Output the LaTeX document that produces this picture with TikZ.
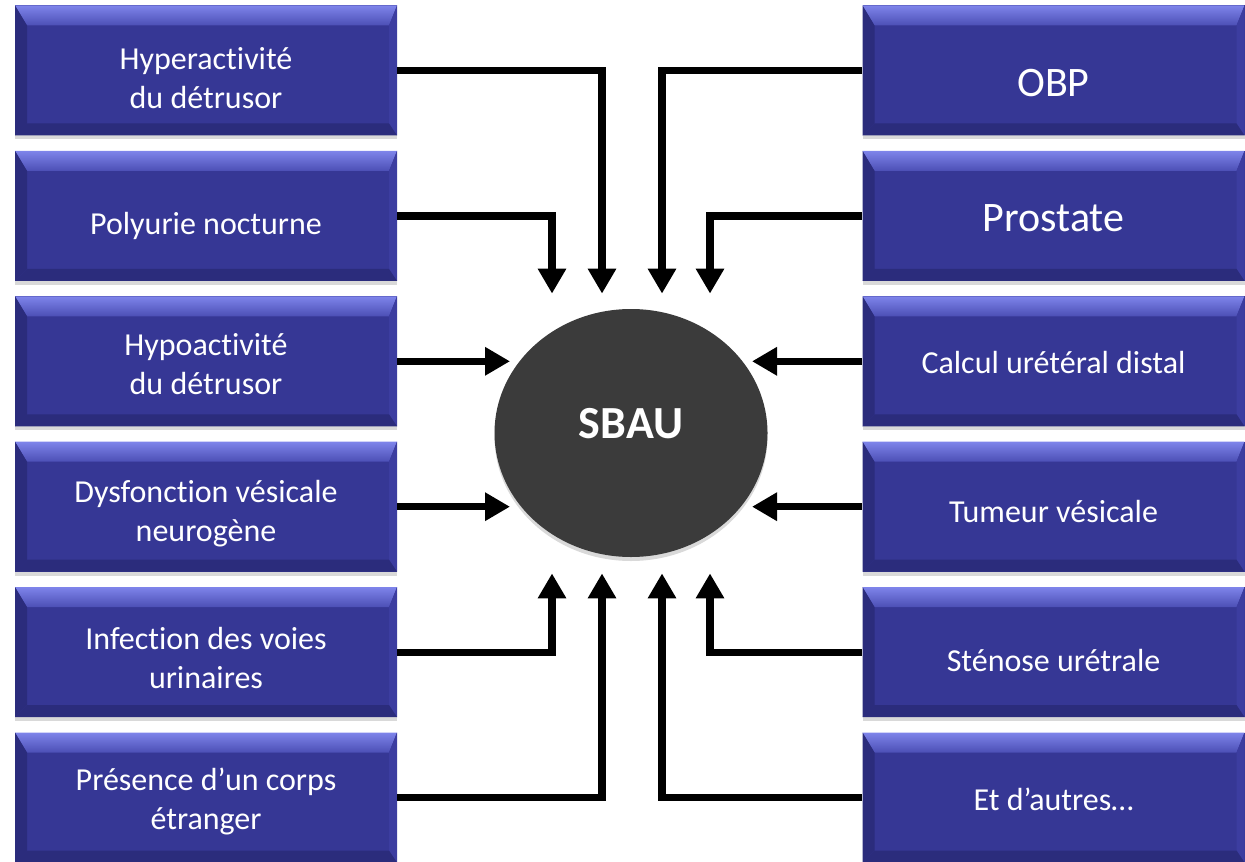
\documentclass[tikz,border=0pt]{standalone}
\usepackage{fontspec}
\setmainfont[Ligatures=NoCommon]{Carlito}
\usetikzlibrary{positioning, calc, arrows.meta, shapes.geometric, shadows}
\definecolor{boxface}{HTML}{363795}
\definecolor{bevellight}{HTML}{7E84EA}
\definecolor{bevelmid}{HTML}{4C4FB5}
\definecolor{beveldark}{HTML}{2B2C7C}
\definecolor{bevelside}{HTML}{3C3DA0}
\definecolor{corefill}{HTML}{3B3B3B}

\begin{document}
\begin{tikzpicture}[
    >={Triangle[width=13.5pt, length=12.5pt]},
    font=\fontsize{16}{19.5}\selectfont,
    node distance=7.3pt,
    cause/.style={
        rectangle,
        minimum width=191pt,
        minimum height=65pt,
        inner sep=0pt,
        align=center,
        fill=boxface,
        text=white,
        execute at begin node={\rule{0pt}{#1}},
        drop shadow={shadow xshift=0pt, shadow yshift=-2pt, opacity=0.3},
        path picture={
            \path (path picture bounding box.north west) coordinate (bNW)
                  (path picture bounding box.north east) coordinate (bNE)
                  (path picture bounding box.south west) coordinate (bSW)
                  (path picture bounding box.south east) coordinate (bSE);
            \shade[top color=bevellight, bottom color=bevelmid]
                (bNW) -- (bNE) -- ($(bNE)+(-4pt,-10pt)$) -- ($(bNW)+(6pt,-10pt)$) -- cycle;
            \fill[beveldark]
                (bNW) -- ($(bNW)+(6pt,-10pt)$) -- ($(bSW)+(6pt,6pt)$) -- (bSW) -- cycle;
            \fill[bevelside]
                (bNE) -- ($(bNE)+(-4pt,-10pt)$) -- ($(bSE)+(-4pt,6pt)$) -- (bSE) -- cycle;
            \fill[beveldark]
                (bSW) -- ($(bSW)+(6pt,6pt)$) -- ($(bSE)+(-4pt,6pt)$) -- (bSE) -- cycle;
        }
    },
    cause/.default=12pt,
    bigcause/.style={cause=#1, font=\fontsize{21}{25}\selectfont},
    bigcause/.default=15pt,
    core/.style={
        ellipse,
        minimum width=136.5pt,
        minimum height=124pt,
        inner sep=0pt,
        fill=corefill,
        text=white,
        font=\fontsize{23}{27}\selectfont\bfseries,
        execute at begin node={\rule[-10pt]{0pt}{10pt}},
        drop shadow={shadow xshift=0pt, shadow yshift=-2pt, opacity=0.3}
    },
    link/.style={->, line width=3.6pt}
]

\path[use as bounding box] (0,0) rectangle (622.5pt,-430.5pt);

% Causes (left)
\node[cause=38.5pt] (L1) at (103pt,-35.25pt) {Hyperactivité\\du détrusor};
\node[cause=21.5pt, below=of L1] (L2) {Polyurie nocturne};
\node[cause=33.5pt, below=of L2] (L3) {Hypoactivité\\du détrusor};
\node[cause=37.5pt, below=of L3] (L4) {Dysfonction vésicale\\neurogène};
\node[cause=36.5pt, below=of L4] (L5) {Infection des voies\\urinaires};
\node[cause=34.5pt, below=of L5] (L6) {Présence d’un corps\\étranger};

% Causes (right)
\node[bigcause=25.8pt] (R1) at (526.75pt,-35.25pt) {OBP};
\node[bigcause=15.8pt, below=of R1] (R2) {Prostate};
\node[cause=12.5pt, below=of R2] (R3) {Calcul urétéral distal};
\node[cause=15.5pt, below=of R3] (R4) {Tumeur vésicale};
\node[cause=19.5pt, below=of R4] (R5) {Sténose urétrale};
\node[cause=13.5pt, below=of R5] (R6) {Et d’autres…};

% Centre
\node[core] (sbau) at (315.5pt,-216.5pt) {SBAU};

% Arrow tips around the centre
\coordinate (topA) at ([xshift=-39.5pt, yshift=7.5pt]sbau.north);
\coordinate (topB) at ([xshift=-14.5pt, yshift=7.5pt]sbau.north);
\coordinate (topC) at ([xshift=15.5pt, yshift=7.5pt]sbau.north);
\coordinate (topD) at ([xshift=39.5pt, yshift=7.5pt]sbau.north);
\coordinate (botA) at ([xshift=-39.5pt, yshift=-8pt]sbau.south);
\coordinate (botB) at ([xshift=-14.5pt, yshift=-8pt]sbau.south);
\coordinate (botC) at ([xshift=15.5pt, yshift=-8pt]sbau.south);
\coordinate (botD) at ([xshift=39.5pt, yshift=-8pt]sbau.south);
\coordinate (inL) at ([xshift=-60.5pt]sbau.center);
\coordinate (inR) at ([xshift=60.5pt]sbau.center);

% Edges
\draw[link] (L1.east) -| (topB);
\draw[link] (L2.east) -| (topA);
\draw[link] (L3.east) -- (L3.east -| inL);
\draw[link] (L4.east) -- (L4.east -| inL);
\draw[link] (L5.east) -| (botA);
\draw[link] (L6.east) -| (botB);

\draw[link] (R1.west) -| (topC);
\draw[link] (R2.west) -| (topD);
\draw[link] (R3.west) -- (R3.west -| inR);
\draw[link] (R4.west) -- (R4.west -| inR);
\draw[link] (R5.west) -| (botD);
\draw[link] (R6.west) -| (botC);

\end{tikzpicture}
\end{document}
